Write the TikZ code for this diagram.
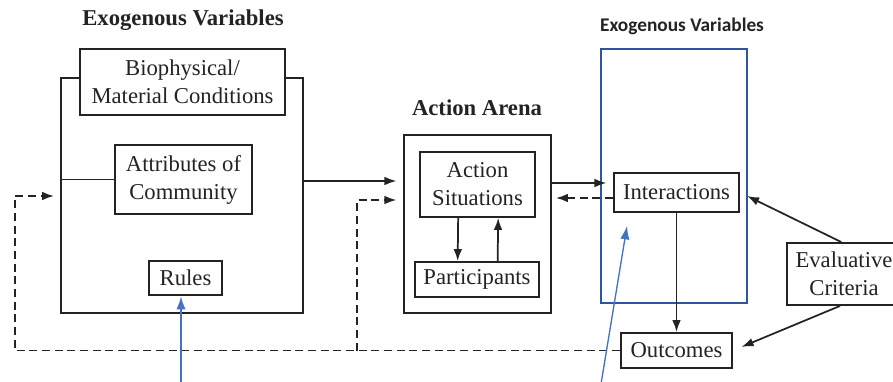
\documentclass[tikz,border=0pt]{standalone}
\usepackage{fontspec}
\setmainfont{Liberation Serif}
\newfontfamily\titlesans{Carlito}
\usetikzlibrary{arrows.meta}
\definecolor{frameblue}{RGB}{47,85,160}
\definecolor{noteblue}{RGB}{68,114,196}
\definecolor{ink}{RGB}{35,35,35}
\tikzset{
  box/.style={draw=ink,line width=1.4pt,fill=white,align=center,inner sep=0pt,text=ink},
  arr/.style={line width=1.3pt,draw=ink,-{Latex[length=9pt,width=6.5pt]}},
  fb/.style={arr,dash pattern=on 6pt off 3.5pt},
  note/.style={draw=noteblue,-{Latex[length=10pt,width=7pt]}},
}
\begin{document}
\begin{tikzpicture}[x=0.75pt,y=-0.75pt,font=\fontsize{17}{21}\selectfont]
\useasboundingbox (0,0) rectangle (893,382);
\clip (0,0) rectangle (893,382);
% exogenous variables
\node at (183,20)[text=ink] {\bfseries Exogenous Variables};
\node[box,fill=none,minimum width=181.5pt,minimum height=176.25pt] (exo) at (182,195.5) {};
\node[box,minimum width=153.75pt,minimum height=49.5pt] (bio) at (182.5,82) {Biophysical/\\Material Conditions};
\node[box,minimum width=102.75pt,minimum height=51.75pt] (attr) at (183.5,179.5) {Attributes of\\Community};
\node[box,minimum width=54.75pt,minimum height=25.5pt] (rules) at (185.5,278) {Rules};
\draw[line width=1.4pt,draw=ink] (attr.west -| exo.west) -- (attr.west);
% action arena
\node at (477,108)[text=ink] {\bfseries Action Arena};
\node[box,minimum width=110.25pt,minimum height=133.5pt] (arena) at (477.5,224) {};
\node[box,minimum width=86.25pt,minimum height=48.75pt] (situ) at (477.5,184.5) {Action\\Situations};
\node[box,minimum width=93pt,minimum height=26.25pt] (part) at (477,279.5) {Participants};
\draw[arr] ([xshift=-14.5pt]situ.south) -- ([xshift=-14.5pt]part.north);
\draw[arr] ([xshift=15.5pt]part.north) -- ([xshift=15.5pt]situ.south);
% exogenous variables (blue)
\node at (682,26)[text=ink] {\titlesans\fontsize{14.5}{17}\selectfont\bfseries Exogenous Variables};
\node[draw=frameblue,line width=1.3pt,minimum width=109.5pt,minimum height=190.5pt] (blue) at (674,176) {};
\node[box,minimum width=93.75pt,minimum height=29.25pt] (inter) at (676.5,192.5) {Interactions};
\node[box,minimum width=83.25pt,minimum height=26.25pt] (outc) at (676.5,350.5) {Outcomes};
\node[box,minimum width=85.5pt,minimum height=46.5pt] (eval) at (844,274) {Evaluative\\Criteria};
% links
\draw[arr,shorten >=5pt] (exo.east |- 0,181) -- (arena.west |- 0,181);
\draw[arr,shorten >=5pt] (arena.east |- 0,183) -- (inter.west |- 0,183);
\draw[fb,shorten >=3pt] (inter.west |- 0,198) -- (arena.east |- 0,198);
\draw[arr] (inter.south) -- (outc.north);
\draw[arr,shorten >=6pt] ([xshift=-2pt]eval.north) -- (inter.east);
\draw[arr,shorten >=7pt] ([xshift=-3pt]eval.south) -- (outc.east);
% feedback
\coordinate (loopL) at (15,196);
\coordinate (loopM) at (357,200);
\draw[fb,shorten >=4.5pt] (outc.west) -| (loopL) -- (exo.west |- loopL);
\draw[fb,shorten >=5pt] (loopM |- outc.west) -- (loopM) -- (arena.west |- loopM);
% notes
\coordinate (noteA) at (181,390);
\coordinate (noteB) at (600,390);
\coordinate (tipB) at (627,226);
\draw[note,line width=1.8pt] (noteA) -- (noteA |- rules.south);
\draw[note,line width=1pt] (noteB) -- (tipB);
\end{tikzpicture}
\end{document}
